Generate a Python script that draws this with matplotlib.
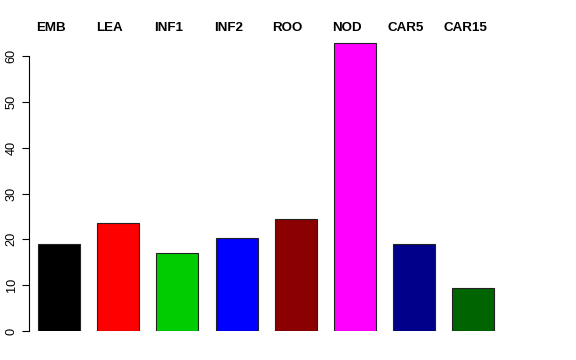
import matplotlib
matplotlib.use("Agg")
import matplotlib.pyplot as plt
import numpy as np

labels = ["EMB", "LEA", "INF1", "INF2", "ROO", "NOD", "CAR5", "CAR15"]
values = [19.0, 23.6, 17.0, 20.4, 24.4, 62.8, 19.0, 9.3]
colors = ["#000000", "#FF0000", "#00CD00", "#0000FF",
          "#8B0000", "#FF00FF", "#00008B", "#006400"]

plt.rcParams["font.family"] = ["Liberation Sans", "DejaVu Sans"]

W, H, DPI = 576, 360, 100
fig = plt.figure(figsize=(W / DPI, H / DPI), dpi=DPI)

# pixel geometry: bar i centred at 59 + 59.2*i, y=0 at 331 px, 4.583 px per unit
step, x0 = 59.2, 59.0
xlim = (-0.6, 8.4)
ylim = (0, 65)
left_px = x0 + xlim[0] * step
right_px = x0 + xlim[1] * step
bottom_px = 331
top_px = 331 - ylim[1] * 4.583
ax = fig.add_axes([left_px / W, 1 - bottom_px / H,
                   (right_px - left_px) / W, (bottom_px - top_px) / H])

x = np.arange(len(labels))
ax.bar(x, values, width=0.71, color=colors, edgecolor="#222222", linewidth=0.8)
ax.set_xlim(*xlim)
ax.set_ylim(*ylim)

for s in ["top", "right", "bottom"]:
    ax.spines[s].set_visible(False)
ax.spines["left"].set_position(("data", (28.7 - x0) / step))
ax.spines["left"].set_bounds(0, 60)
ax.spines["left"].set_linewidth(0.8)
ax.set_xticks([])
ax.set_yticks(np.arange(0, 61, 10))
ax.set_yticklabels([str(v) for v in range(0, 61, 10)], rotation=90, va="center")
ax.tick_params(axis="y", length=5, width=0.8, pad=3, labelsize=9.2)

label_y = (331 - 28) / 4.583
for i, lab in enumerate(labels):
    ax.text(i - 0.14, label_y, lab, ha="center", va="center",
            fontsize=9.6, fontweight="bold", clip_on=False)

fig.savefig("out.png", dpi=DPI)
